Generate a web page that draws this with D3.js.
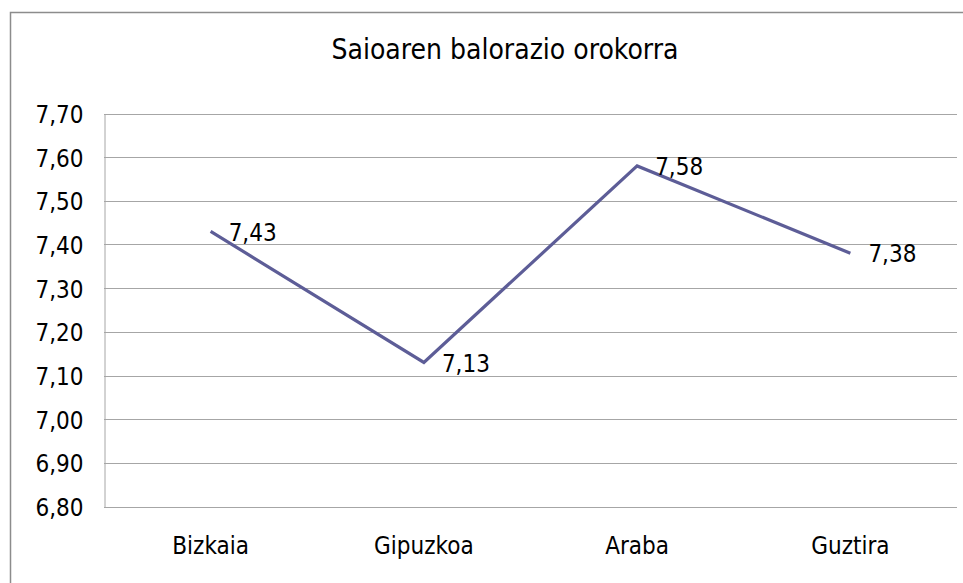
<!DOCTYPE html>
<html>
<head>
<meta charset="utf-8">
<script src="https://cdn.jsdelivr.net/npm/d3@7"></script>
<style>
html,body{margin:0;padding:0;background:#fff;}
svg{display:block;}
text{font-family:"DejaVu Sans Condensed","DejaVu Sans",sans-serif;font-stretch:condensed;fill:#000;}
</style>
</head>
<body>
<svg id="chart" width="963" height="583"></svg>
<script>
const title = "Saioaren balorazio orokorra";
const categories = ["Bizkaia", "Gipuzkoa", "Araba", "Guztira"];
const values = [7.43, 7.13, 7.58, 7.38];
const yTicks = [6.8, 6.9, 7.0, 7.1, 7.2, 7.3, 7.4, 7.5, 7.6, 7.7];

const svg = d3.select("#chart");
const W = 963, H = 583;
const m = {left: 104, right: 6, top: 113.5, bottom: 76.5};

// outer chart border (extends past the visible window on right/bottom)
svg.append("rect")
  .attr("x", 10.5).attr("y", 12.5)
  .attr("width", 1000).attr("height", 600)
  .attr("fill", "none").attr("stroke", "#8c8c8c").attr("stroke-width", 1.5);

const x = d3.scaleBand().domain(categories).range([m.left, W - m.right]);
const y = d3.scaleLinear().domain([6.8, 7.7]).range([H - m.bottom, m.top]);
const fmt = d => d3.format(".2f")(d).replace(".", ",");

// gridlines
svg.append("g").selectAll("line").data(yTicks).join("line")
  .attr("x1", m.left).attr("x2", W - m.right)
  .attr("y1", d => Math.round(y(d)) + 0.5).attr("y2", d => Math.round(y(d)) + 0.5)
  .attr("stroke", "#a6a6a6").attr("stroke-width", 1);

// y axis
const yAxis = svg.append("g").attr("transform", `translate(${m.left + 0.5},0.5)`)
  .call(d3.axisLeft(y).tickValues(yTicks).tickFormat(fmt).tickSize(0).tickPadding(21));
yAxis.select(".domain").attr("stroke", "#a6a6a6");
yAxis.selectAll("text").style("font-size", "24px").attr("dy", "0.36em");

// x axis labels
const xAxis = svg.append("g").attr("transform", `translate(0,${H - m.bottom})`)
  .call(d3.axisBottom(x).tickSize(0).tickPadding(30));
xAxis.select(".domain").remove();
xAxis.selectAll("text").style("font-size", "24px");

// line
const line = d3.line().x((d, i) => x(categories[i]) + x.bandwidth() / 2).y(d => y(d));
svg.append("path").datum(values)
  .attr("d", line).attr("fill", "none")
  .attr("stroke", "#5d5d97").attr("stroke-width", 3.2).attr("stroke-linejoin", "miter");

// data labels
svg.append("g").selectAll("text").data(values).join("text")
  .attr("x", (d, i) => x(categories[i]) + x.bandwidth() / 2 + 18)
  .attr("y", d => y(d))
  .attr("dy", "0.38em")
  .style("font-size", "24px")
  .text(fmt);

// title
svg.append("text").attr("x", 505).attr("y", 59)
  .attr("text-anchor", "middle").style("font-size", "28px").text(title);
</script>
</body>
</html>
